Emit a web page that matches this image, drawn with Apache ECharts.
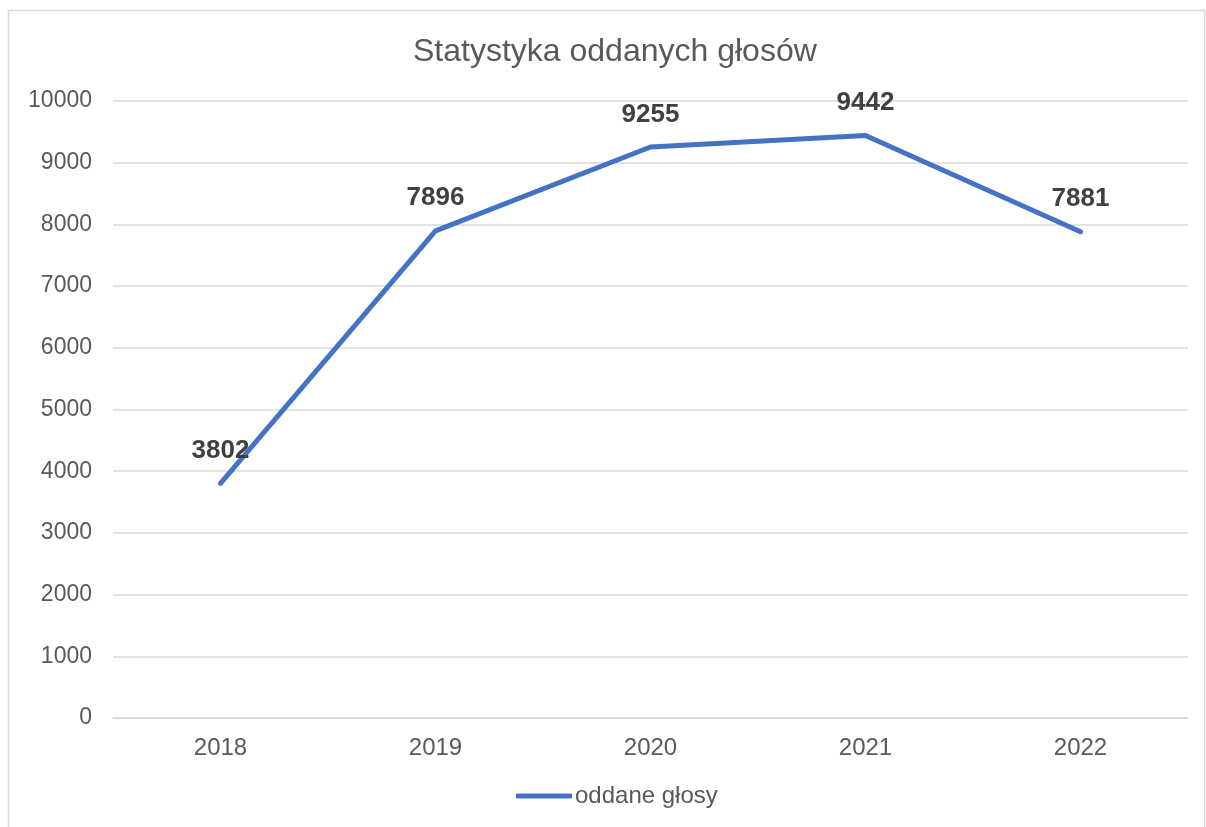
<!DOCTYPE html>
<html>
<head>
    <meta charset="utf-8">
    <title>ECharts</title>
    <script src="https://cdn.jsdelivr.net/npm/echarts@6/dist/echarts.min.js"></script>
    <style>
        html, body { margin: 0; padding: 0; background: #fff; }
    </style>
</head>
<body>
    <div id="main" style="width: 1206px;height:827px;"></div>
    <script type="text/javascript">
        // dane wykresu
        var years = ['2018', '2019', '2020', '2021', '2022'];
        var votes = [3802, 7896, 9255, 9442, 7881];
        var yTicks = [0, 1000, 2000, 3000, 4000, 5000, 6000, 7000, 8000, 9000, 10000];
        var seriesName = 'oddane głosy';

        var myChart = echarts.init(document.getElementById('main'));

        var option = {
            animation: false,
            textStyle: { fontFamily: 'Liberation Sans, Arial, sans-serif' },
            graphic: [{
                type: 'rect',
                shape: { x: 8.5, y: 10.5, width: 1196, height: 840 },
                style: { fill: 'none', stroke: '#d9d9d9', lineWidth: 1.5 },
                silent: true
            }],
            title: {
                text: 'Statystyka oddanych głosów',
                left: 408,
                top: 31,
                textStyle: { color: '#595959', fontSize: 32, fontWeight: 'normal' }
            },
            legend: {
                bottom: 14,
                left: 511,
                data: [seriesName],
                icon: 'roundRect',
                itemWidth: 56,
                itemHeight: 5,
                itemGap: 2,
                textStyle: { color: '#595959', fontSize: 24, padding: [0, 0, 0, -2] }
            },
            grid: { left: 113, right: 18, top: 101, bottom: 109 },
            xAxis: {
                type: 'category',
                data: years,
                boundaryGap: true,
                axisLine: { lineStyle: { color: '#d9d9d9', width: 1.5 } },
                axisTick: { show: false },
                axisLabel: { color: '#595959', fontSize: 24, margin: 18 }
            },
            yAxis: {
                type: 'value',
                min: yTicks[0],
                max: yTicks[yTicks.length - 1],
                interval: 1000,
                axisLine: { show: false },
                axisTick: { show: false },
                splitLine: { lineStyle: { color: '#d9d9d9', width: 1.5 } },
                axisLabel: {
                    color: '#595959', fontSize: 23, margin: 21,
                    formatter: function (v) { return String(v); }
                }
            },
            series: [{
                name: seriesName,
                type: 'line',
                data: votes,
                symbol: 'circle',
                symbolSize: 1,
                showSymbol: true,
                lineStyle: { color: '#4472C4', width: 5, cap: 'round', join: 'round' },
                itemStyle: { color: '#4472C4' },
                label: {
                    show: true,
                    position: 'top',
                    distance: 19,
                    color: '#404040',
                    fontSize: 26,
                    fontWeight: 'bold'
                }
            }]
        };

        myChart.setOption(option);
    </script>
</body>
</html>
